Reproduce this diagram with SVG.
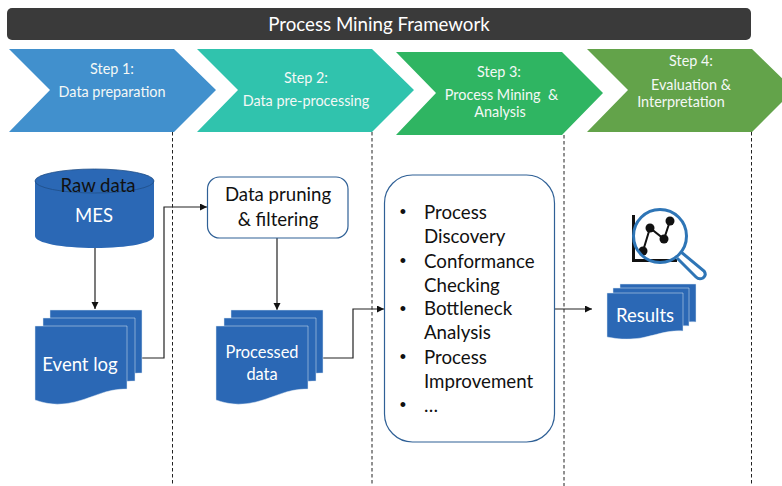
<svg xmlns="http://www.w3.org/2000/svg" width="782" height="486" viewBox="0 0 782 486">
<style>
text{font-family:Lato,"Open Sans","Liberation Sans",sans-serif;text-anchor:middle;white-space:pre}
.t{font-size:18.7px;fill:#fff}
.s{font-size:14.4px;fill:#f4f8f6}
.k{font-size:18.6px;fill:#111}
.l{font-size:18.7px;fill:#111;text-anchor:start}
.b{font-size:18px;fill:#111;font-family:"Liberation Sans",sans-serif}
.n{font-size:18.5px;fill:#fff}
.m{font-size:16.4px;fill:#fff}
.doc{fill:#2b68b5;stroke:#dfe8f3;stroke-width:.5}
.c{fill:none;stroke:#222;stroke-width:1.2}
.d{fill:none;stroke:#222;stroke-width:1;stroke-dasharray:3.5 2.5}
.box{fill:#fff;stroke:#2f6096;stroke-width:1.2}
</style>
<defs>
<marker id="a" markerWidth="8" markerHeight="8" refX="7" refY="3.5" orient="auto" markerUnits="userSpaceOnUse"><path d="M0 0L7 3.5L0 7Z" fill="#111"/></marker>
<path id="p" d="M0 0H92V63C70 63 60 71 40 76C22 80 12 78 0 74Z"/>
<path id="q" d="M0 0H76V38C60 37 50 42 34 45C20 47 10 46 0 44Z"/>
</defs>
<g id="title"><rect x="7" y="8" width="744" height="32" rx="5" fill="#3a3a3a"/><text class="t" x="379" y="31">Process Mining Framework</text></g>
<g id="step1"><path d="M9 49H174L216 90L174 132H9L50 90Z" fill="#4190cd"/><text class="s" x="112" y="74">Step 1:</text><text class="s" x="112" y="97">Data preparation</text></g>
<g id="step2"><path d="M197 49H372L414 90L372 132H197L238 90Z" fill="#30c3ad"/><text class="s" x="306" y="83">Step 2:</text><text class="s" x="306" y="106">Data pre-processing</text></g>
<g id="step3"><path d="M396 52H562L603 93L562 135H396L436 93Z" fill="#2fb562"/><text class="s" x="499" y="77">Step 3:</text><text class="s" x="501.500" y="100">Process Mining  &amp;</text><text class="s" x="500" y="117">Analysis</text></g>
<g id="step4"><path d="M587 49H752L794 90L752 132H587L628 90Z" fill="#63a34a"/><text class="s" x="691" y="66">Step 4:</text><text class="s" x="691" y="90">Evaluation &amp;</text><text class="s" x="681" y="107">Interpretation</text></g>
<g id="connectors">
<path class="d" d="M172.500 132V486M372 132V486M564 135V486M751.500 132V486"/>
<path class="c" d="M95 248V309" marker-end="url(#a)"/>
<path class="c" d="M142 358H164V207H207" marker-end="url(#a)"/>
<path class="c" d="M277 238V310" marker-end="url(#a)"/>
<path class="c" d="M323 358H353V309H384" marker-end="url(#a)"/>
<path class="c" d="M555 309H592" marker-end="url(#a)"/>
</g>
<g id="raw-data"><path d="M35 181V236C35 243 62 248 95 248C128 248 154 243 154 236V181Z" fill="#2b68b5"/><ellipse cx="94.500" cy="181" rx="59.500" ry="12" fill="#2b68b5" stroke="#1f4e87" stroke-width=".8"/><text class="k" x="98" y="192">Raw data</text><text class="n" x="94" y="222">MES</text></g>
<g id="event-log"><use href="#p" x="50" y="310" class="doc"/><use href="#p" x="43" y="318" class="doc"/><use href="#p" x="35" y="326" class="doc"/><text class="n" x="80" y="371">Event log</text></g>
<g id="pruning"><rect class="box" x="207.500" y="177" width="140.500" height="61" rx="12"/><text class="k" x="278" y="201">Data pruning</text><text class="k" x="278" y="226">&amp; filtering</text></g>
<g id="processed-data"><use href="#p" x="231" y="310" class="doc"/><use href="#p" x="224" y="318" class="doc"/><use href="#p" x="216" y="326" class="doc"/><text class="m" x="262" y="358">Processed</text><text class="m" x="262" y="380">data</text></g>
<g id="methods"><rect class="box" x="384.500" y="175" width="170" height="267" rx="28"/>
<text class="b" x="403" y="218">•</text><text class="b" x="403" y="267">•</text><text class="b" x="403" y="315">•</text><text class="b" x="403" y="363">•</text><text class="b" x="403" y="411">•</text>
<text class="l" x="424" y="218.500">Process</text><text class="l" x="424" y="242.500">Discovery</text><text class="l" x="424" y="267.500">Conformance</text><text class="l" x="424" y="291.500">Checking</text><text class="l" x="424" y="315">Bottleneck</text><text class="l" x="424" y="339">Analysis</text><text class="l" x="424" y="364">Process</text><text class="l" x="424" y="388">Improvement</text><text class="l" x="424" y="412">…</text></g>
<g id="results"><use href="#q" x="620" y="284" class="doc"/><use href="#q" x="613" y="288" class="doc"/><use href="#q" x="607" y="293" class="doc"/><text class="n" x="645" y="322">Results</text></g>
<g id="icon"><path d="M633.500 215V260.500H677" fill="none" stroke="#111" stroke-width="3"/>
<path d="M643 251L650 228L664 239L670 221" fill="none" stroke="#111" stroke-width="2"/>
<g fill="#111"><circle cx="643" cy="251" r="4.500"/><circle cx="650" cy="228" r="4.500"/><circle cx="664" cy="239" r="4.500"/><circle cx="670" cy="221" r="4.500"/></g>
<circle cx="660" cy="236" r="26.500" fill="none" stroke="#2e75b6" stroke-width="3"/>
<path d="M681 252L704 271Q707 275 703 278Q699 280 696 277L677 258" fill="none" stroke="#2e75b6" stroke-width="3"/></g>
</svg>
